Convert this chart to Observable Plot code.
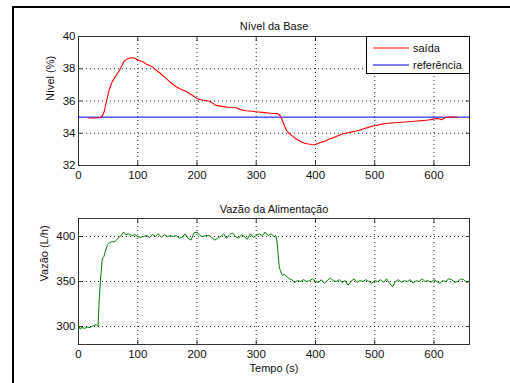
<!DOCTYPE html>
<html>
<head>
<meta charset="utf-8">
<script src="https://cdn.jsdelivr.net/npm/d3@7"></script>
<script src="https://cdn.jsdelivr.net/npm/@observablehq/plot@0.6"></script>
<style>
  html, body { margin: 0; padding: 0; background: #fff; }
  #wrap { position: relative; width: 510px; height: 383px; overflow: hidden; background: #fff;
          font-family: "Liberation Sans", Arial, sans-serif; }
  #border { position: absolute; left: 12px; top: 6px; right: -5px; bottom: -5px;
            border-left: 2px solid #000; border-top: 2px solid #000; }
  .panel { position: absolute; left: 0; }
  #legend { position: absolute; left: 366px; top: 36px; width: 102px; height: 36px;
            border: 1px solid #000; background: #fff; font-size: 11px; }
</style>
</head>
<body>
<div id="wrap">
  <div id="border"></div>
  <div id="top" class="panel" style="top:0px"></div>
  <div id="bottom" class="panel" style="top:190px"></div>
  <div id="legend"></div>
</div>
<script>
// ---- Data ----
const xTicks = [0, 100, 200, 300, 400, 500, 600];
const nivelTicks = [32, 34, 36, 38, 40];
const vazaoTicks = [300, 350, 400];

const titleTop = "Nível da Base";
const titleBottom = "Vazão da Alimentação";
const yLabelTop = "Nível (%)";
const yLabelBottom = "Vazão (L/h)";
const xLabel = "Tempo (s)";
const legendLabels = ["saída", "referência"];

// saída (nível)
const tSaida = [17, 25, 32, 37, 40, 43, 46, 48, 51, 54, 57, 62, 68, 72, 77, 82, 88, 94, 99, 105, 110, 114, 120, 125, 130, 138, 147, 155, 164, 172, 181, 190, 201, 210, 221, 232, 245, 255, 266, 275, 283, 293, 303, 314, 325, 334, 337, 340, 342, 345, 348, 351, 355, 359, 365, 370, 376, 382, 388, 394, 399, 405, 410, 416, 422, 430, 438, 445, 452, 460, 467, 475, 481, 488, 495, 502, 510, 518, 528, 540, 551, 562, 572, 580, 590, 597, 602, 607, 613, 619, 625, 632, 640];
const vSaida = [34.95, 34.95, 34.96, 34.98, 35.05, 35.3, 35.78, 36.1, 36.6, 36.9, 37.2, 37.5, 37.85, 38.1, 38.47, 38.6, 38.68, 38.66, 38.57, 38.48, 38.4, 38.3, 38.2, 38.1, 37.95, 37.72, 37.43, 37.15, 36.9, 36.75, 36.6, 36.4, 36.13, 36.05, 35.98, 35.73, 35.65, 35.6, 35.58, 35.45, 35.4, 35.36, 35.32, 35.28, 35.24, 35.22, 35.2, 35.1, 34.99, 34.7, 34.43, 34.2, 34.0, 33.9, 33.7, 33.6, 33.46, 33.38, 33.33, 33.3, 33.29, 33.38, 33.45, 33.5, 33.62, 33.72, 33.85, 33.95, 34.02, 34.07, 34.12, 34.2, 34.28, 34.35, 34.43, 34.48, 34.55, 34.6, 34.64, 34.67, 34.7, 34.73, 34.76, 34.78, 34.82, 34.86, 34.9, 34.92, 34.84, 34.96, 34.99, 35.0, 34.99];

// referência
const tRef = [0, 660];
const vRef = [35, 35];

// vazão da alimentação
const tVazao = [0, 3, 5, 10, 15, 20, 25, 30, 33, 35, 37, 40, 43, 46, 49, 52, 56, 60, 64, 68, 72, 76, 80, 85, 90, 95, 100, 105, 110, 115, 120, 125, 130, 135, 140, 145, 150, 155, 160, 165, 170, 175, 180, 185, 190, 195, 200, 205, 210, 215, 220, 225, 230, 235, 240, 245, 250, 255, 260, 265, 270, 275, 280, 285, 290, 295, 300, 305, 310, 315, 320, 325, 330, 333, 335, 337, 339, 341, 344, 348, 352, 356, 360, 365, 370, 375, 380, 385, 390, 395, 400, 405, 410, 415, 420, 425, 430, 435, 440, 445, 450, 455, 460, 465, 470, 475, 480, 485, 490, 495, 500, 505, 510, 515, 520, 525, 530, 535, 540, 545, 550, 555, 560, 565, 570, 575, 580, 585, 590, 595, 600, 605, 610, 615, 620, 625, 630, 635, 640, 645, 650, 655, 660];
const vVazao = [301, 297, 299, 298, 299, 299, 301, 302, 300, 330, 350, 375, 378, 385, 391, 393, 394, 394, 396, 399, 401, 405, 402, 403, 401, 402, 400, 399, 400, 401, 399, 402, 400, 403, 399, 402, 400, 401, 400, 401, 398, 399, 403, 398, 396, 404, 405, 401, 400, 401, 401, 399, 396, 398, 400, 403, 398, 402, 404, 400, 398, 402, 400, 397, 403, 399, 401, 403, 401, 405, 401, 403, 400, 401, 395, 380, 365, 362, 357, 358, 355, 353, 352, 349, 351, 350, 352, 350, 351, 353, 350, 349, 352, 348, 351, 354, 351, 350, 352, 349, 351, 346, 350, 353, 349, 351, 350, 352, 350, 348, 351, 350, 352, 349, 353, 348, 344, 350, 352, 349, 351, 350, 352, 348, 351, 350, 353, 350, 351, 349, 352, 350, 348, 351, 350, 353, 352, 349, 350, 353, 352, 349, 350];

// ---- Build tables ----
const saida = tSaida.map((t, i) => ({t, v: vSaida[i]}));
const ref = tRef.map((t, i) => ({t, v: vRef[i]}));
const vazao = tVazao.map((t, i) => ({t, v: vVazao[i]}));

const FONT = "'Liberation Sans', Arial, sans-serif";
const empty = () => "";

function frameMarks(yt) {
  const grid = {stroke: "#000", strokeOpacity: 0.85, strokeDasharray: "1,3", strokeWidth: 1};
  return [
    Plot.gridX(xTicks, grid),
    Plot.gridY(yt, grid),
    Plot.frame({stroke: "#333", strokeWidth: 1}),
    Plot.axisX(xTicks, {anchor: "bottom", tickSize: 4, dy: -4, tickFormat: empty, label: null, stroke: "#333"}),
    Plot.axisX(xTicks, {anchor: "top", tickSize: 4, dy: 4, tickFormat: empty, label: null, stroke: "#333"}),
    Plot.axisY(yt, {anchor: "left", tickSize: 4, dx: 4, tickFormat: empty, label: null, stroke: "#333"}),
    Plot.axisY(yt, {anchor: "right", tickSize: 4, dx: -4, tickFormat: empty, label: null, stroke: "#333"}),
    Plot.axisX(xTicks, {anchor: "bottom", tickSize: 0, tickPadding: 5, label: null, fontSize: 11.5, fill: "#111"}),
    Plot.axisY(yt, {anchor: "left", tickSize: 0, tickPadding: 3, label: null, fontSize: 11.5, fill: "#111"})
  ];
}

const topPlot = Plot.plot({
  width: 510, height: 190,
  marginLeft: 78, marginRight: 41, marginTop: 36, marginBottom: 25,
  style: {background: "transparent", fontFamily: FONT, fontSize: "11px"},
  x: {domain: [0, 660], label: null},
  y: {domain: [32, 40], label: null},
  marks: [
    ...frameMarks(nivelTicks),
    Plot.line(ref, {x: "t", y: "v", stroke: "#0000ff", strokeWidth: 1}),
    Plot.line(saida, {x: "t", y: "v", stroke: "#ff0000", strokeWidth: 1.1, curve: "linear"}),
    Plot.text([titleTop], {frameAnchor: "top", dy: -14, fontSize: 11, fill: "#111"}),
    Plot.text([yLabelTop], {frameAnchor: "left", rotate: -90, dx: -28, fontSize: 11, fill: "#111"})
  ]
});
document.getElementById("top").appendChild(topPlot);

const bottomPlot = Plot.plot({
  width: 510, height: 193,
  marginLeft: 78, marginRight: 41, marginTop: 28, marginBottom: 39,
  style: {background: "transparent", fontFamily: FONT, fontSize: "11px"},
  x: {domain: [0, 660], label: null},
  y: {domain: [280, 420], label: null},
  marks: [
    ...frameMarks(vazaoTicks),
    Plot.line(vazao, {x: "t", y: "v", stroke: "#008000", strokeWidth: 1}),
    Plot.text([titleBottom], {frameAnchor: "top", dy: -13, fontSize: 11, fill: "#111"}),
    Plot.text([yLabelBottom], {frameAnchor: "left", rotate: -90, dx: -34, fontSize: 11, fill: "#111"}),
    Plot.text([xLabel], {frameAnchor: "bottom", dy: 27, fontSize: 11, fill: "#111"})
  ]
});
document.getElementById("bottom").appendChild(bottomPlot);

// ---- Legend ----
const legendColors = ["#ff0000", "#0000ff"];
const lg = d3.select("#legend").append("svg").attr("width", 102).attr("height", 36)
  .style("font-family", FONT).style("font-size", "11px");
legendLabels.forEach((name, i) => {
  const y = 11 + i * 17;
  lg.append("line").attr("x1", 6).attr("x2", 42).attr("y1", y).attr("y2", y)
    .attr("stroke", legendColors[i]).attr("stroke-width", 1);
  lg.append("text").attr("x", 46).attr("y", y).attr("dy", "0.35em").attr("fill", "#111").text(name);
});
</script>
</body>
</html>
